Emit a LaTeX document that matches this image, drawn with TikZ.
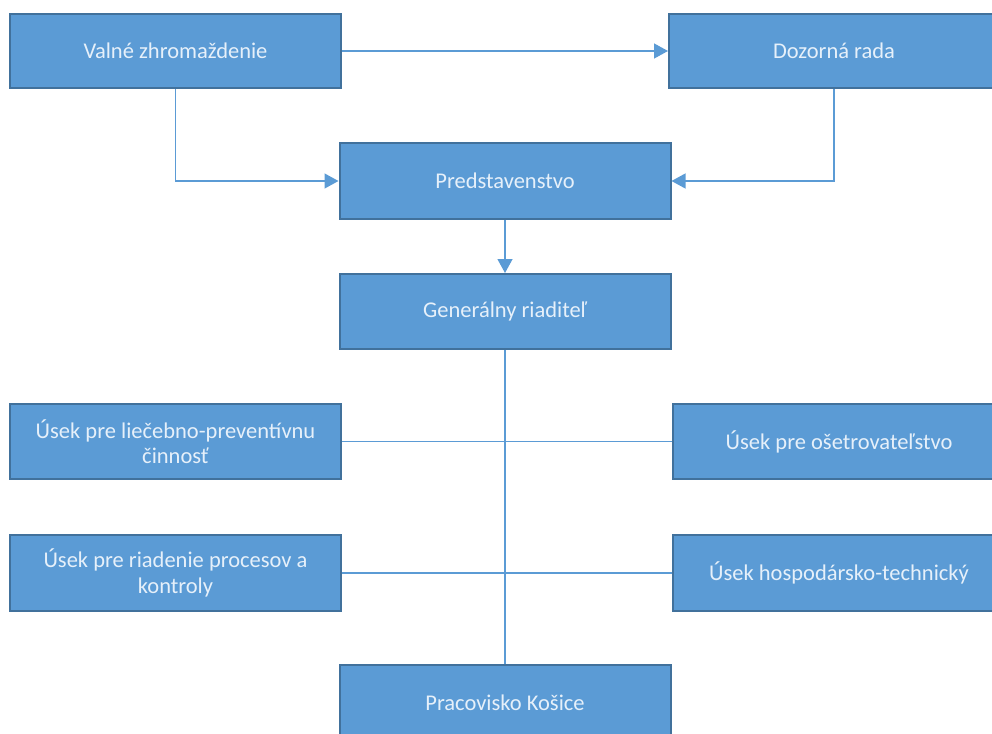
\documentclass[tikz,border=0pt]{standalone}
\usepackage{fontspec}
\setmainfont{Carlito}
\usetikzlibrary{arrows.meta}
\definecolor{boxfill}{HTML}{5B9BD5}
\definecolor{boxline}{HTML}{41719C}
\definecolor{conn}{HTML}{5B9BD5}
\definecolor{boxtext}{HTML}{E6F0FA}
\tikzset{
  orgbox/.style={draw=boxline, line width=2pt, fill=boxfill, text=boxtext,
    font=\fontsize{22.5}{25.5}\selectfont, align=center, inner sep=0pt},
  conline/.style={draw=conn, line width=1.3pt},
  conarrow/.style={conline, -{Triangle[length=14pt,width=15pt]}}
}
\begin{document}
\begin{tikzpicture}[x=1pt,y=-1pt]
\useasboundingbox (0,0) rectangle (992,733);
\clip (0,0) rectangle (992,733);
\node[orgbox, minimum width=331pt, minimum height=74pt] (valne) at (175.5,51) {Valné zhromaždenie};
\node[orgbox, minimum width=330pt, minimum height=74pt] (dozor) at (834,51) {Dozorná rada};
\node[orgbox, minimum width=331pt, minimum height=76pt] (pred) at (505,181) {Predstavenstvo};
\node[orgbox, minimum width=331pt, minimum height=75pt] (gen) at (505,311.5) {Generálny riaditeľ};
\node[orgbox, minimum width=331pt, minimum height=75pt] (liec) at (175.5,441.5) {Úsek pre liečebno-preventívnu\\činnosť};
\node[orgbox, minimum width=332pt, minimum height=75pt] (oset) at (839,441.5) {Úsek pre ošetrovateľstvo};
\node[orgbox, minimum width=331pt, minimum height=76pt] (riad) at (175.5,573) {Úsek pre riadenie procesov a\\kontroly};
\node[orgbox, minimum width=332pt, minimum height=76pt] (hosp) at (839,573) {Úsek hospodársko-technický};
\node[orgbox, minimum width=331pt, minimum height=76pt] (kos) at (505,703) {Pracovisko Košice};
\draw[conarrow] (valne.east) -- (dozor.west);
\draw[conarrow] (valne.south) |- (pred.west);
\draw[conarrow] (dozor.south) |- (pred.east);
\draw[conarrow] (pred.south) -- (gen.north);
\draw[conline] (gen.south) -- (kos.north);
\draw[conline] (liec.east) -- (oset.west);
\draw[conline] (riad.east) -- (hosp.west);
\end{tikzpicture}
\end{document}
